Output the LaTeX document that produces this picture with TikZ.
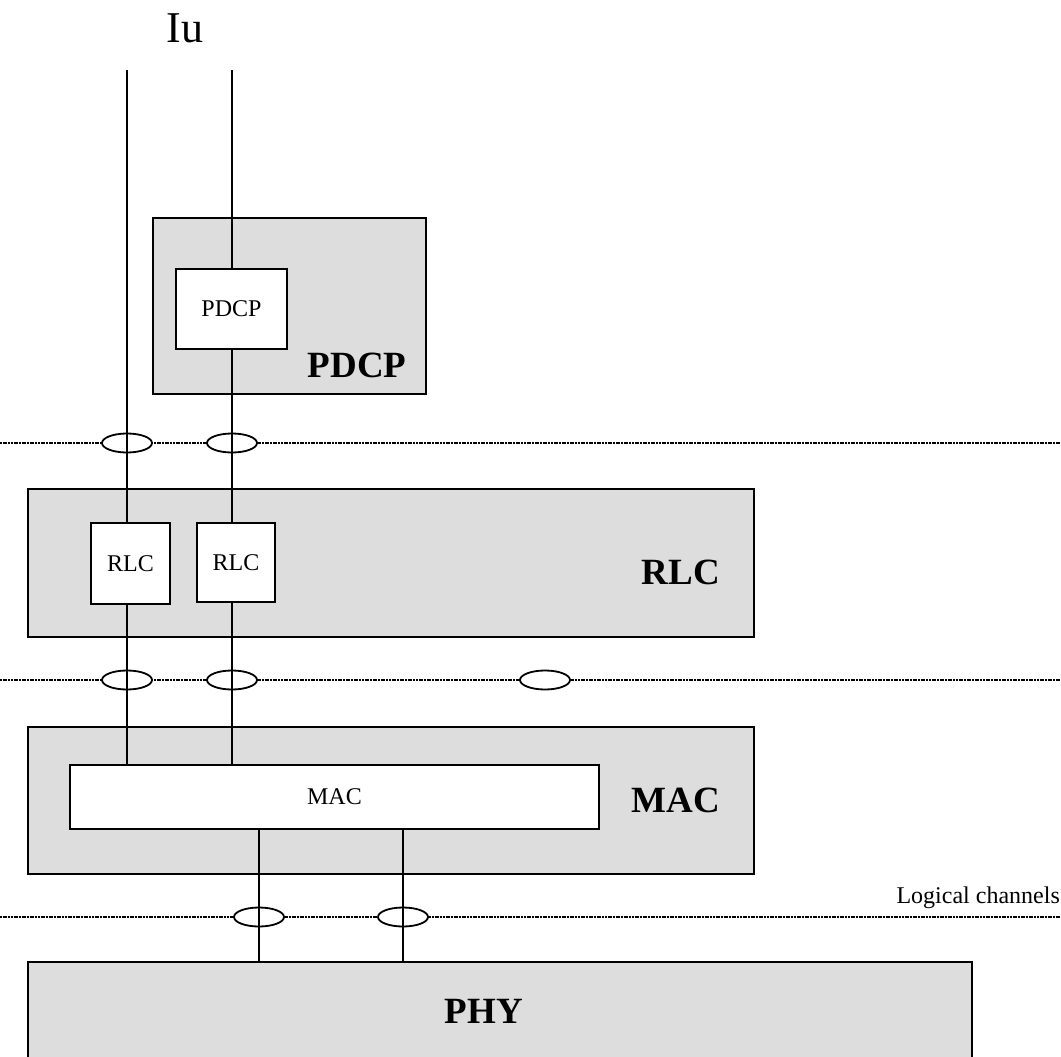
\documentclass[tikz,border=0pt]{standalone}
\usepackage{fontspec}
\setmainfont{Liberation Serif}
\usetikzlibrary{shapes.geometric}
\definecolor{layergray}{RGB}{221,221,221}

\begin{document}
\begin{tikzpicture}[x=1pt,y=-1pt,
  layer/.style={draw,line width=1.6pt,fill=layergray,inner sep=0pt,outer sep=0pt},
  entity/.style={draw,line width=1.6pt,fill=white,inner sep=0pt,outer sep=0pt,font=\fontsize{24}{26}\selectfont},
  layername/.style={inner sep=0pt,font=\bfseries\fontsize{37}{40}\selectfont},
  sap/.style={draw,ellipse,line width=1.8pt,fill=white,minimum width=50pt,minimum height=19pt,inner sep=0pt},
  boundary/.style={line width=2.2pt,dash pattern=on 2pt off 0.7pt},
  chan/.style={line width=1.3pt}]
\path[use as bounding box] (0,0) rectangle (1061,1057);

% layer boundaries
\draw[boundary] (0,443) coordinate (bnd1w) -- (1061,443) coordinate (bnd1e);
\draw[boundary] (0,680) coordinate (bnd2w) -- (1061,680) coordinate (bnd2e);
\draw[boundary] (0,917) coordinate (bnd3w) -- (1061,917) coordinate (bnd3e);

% layers
\node[layer,minimum width=273pt,minimum height=176pt] (pdcpL) at (289.5,306) {};
\node[layer,minimum width=726pt,minimum height=148pt] (rlcL) at (391,563) {};
\node[layer,minimum width=726pt,minimum height=147pt] (macL) at (391,800.5) {};
\node[layer,minimum width=944pt,minimum height=103pt] (phyL) at (500,1013.5) {};

\node[layername] (pdcpT) at (357,365) {PDCP};
\node[layername] (rlcT) at (681,572) {RLC};
\node[layername] (macT) at (676,800) {MAC};
\node[layername] (phyT) at (484,1011) {PHY};

% service access points
\node[sap] (sap1a) at (127,443) {};
\node[sap] (sap1b) at (232,443) {};
\node[sap] (sap2a) at (127,680) {};
\node[sap] (sap2b) at (232,680) {};
\node[sap] (sap2c) at (545,680) {};
\node[sap] (sap3a) at (259,917) {};
\node[sap] (sap3b) at (403,917) {};

% entities
\node[entity,minimum width=111pt,minimum height=80pt] (pdcpE) at (231.5,309) {PDCP};
\node[entity,minimum width=79pt,minimum height=81pt] (rlcA) at (130.5,563.5) {RLC};
\node[entity,minimum width=78pt,minimum height=79pt] (rlcB) at (236,562.5) {RLC};
\node[entity,minimum width=529pt,minimum height=64pt] (macE) at (334.5,797) {MAC};

% labels
\node[anchor=base,inner sep=0pt,font=\fontsize{44}{48}\selectfont] (iu) at (185,43) {Iu};
\node[anchor=base east,inner sep=0pt,font=\fontsize{24}{26}\selectfont] (lcLabel) at (1060,903) {Logical channels};

% channels
\coordinate (iuA) at (127,70);
\coordinate (iuB) at (232,70);
\draw[chan] (iuA) -- (sap1a |- rlcA.north);
\draw[chan] (iuB) -- (sap1b |- pdcpE.north);
\draw[chan] (sap1b |- pdcpE.south) -- (sap1b |- rlcB.north);
\draw[chan] (sap2a |- rlcA.south) -- (sap2a |- macE.north);
\draw[chan] (sap2b |- rlcB.south) -- (sap2b |- macE.north);
\draw[chan] (sap3a |- macE.south) -- (sap3a |- phyL.north);
\draw[chan] (sap3b |- macE.south) -- (sap3b |- phyL.north);
\end{tikzpicture}
\end{document}
